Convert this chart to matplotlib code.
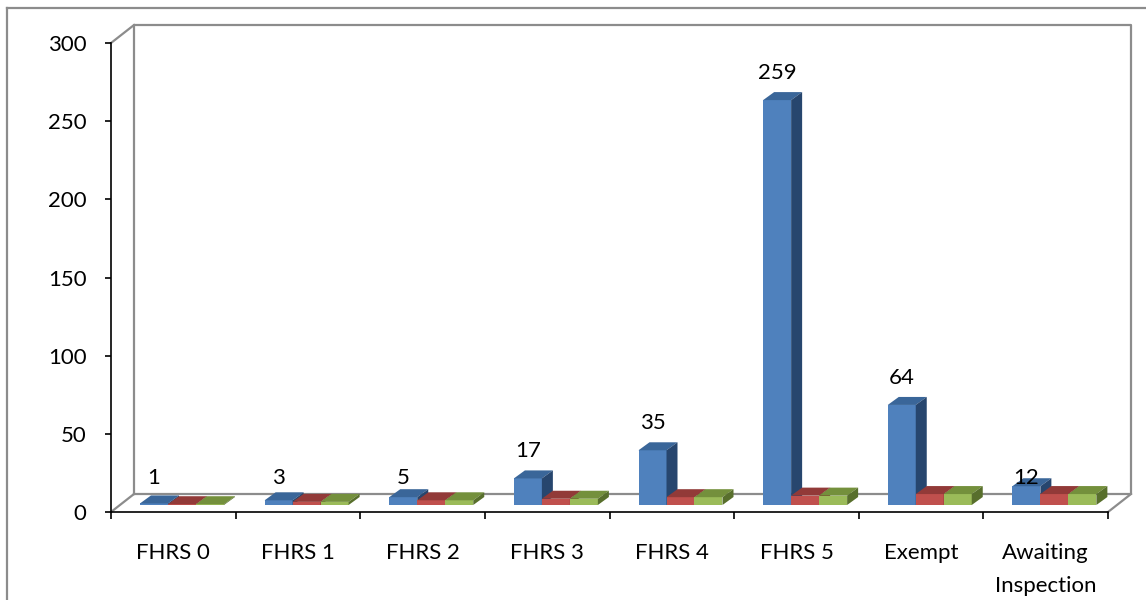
import matplotlib
matplotlib.use("Agg")
import matplotlib.pyplot as plt
from matplotlib.patches import Polygon
from matplotlib.lines import Line2D

categories = ["FHRS 0", "FHRS 1", "FHRS 2", "FHRS 3", "FHRS 4", "FHRS 5",
              "Exempt", "Awaiting\nInspection"]
series_blue = [1, 3, 5, 17, 35, 259, 64, 12]
series_red = [0.5, 2, 3, 4, 5, 6, 7, 7]
series_green = [0.5, 2, 3, 4, 5, 6, 7, 7]
y_ticks = [0, 50, 100, 150, 200, 250, 300]

plt.rcParams["font.family"] = ["Lato", "DejaVu Sans"]
FS = 16

W, H = 1146, 600
fig = plt.figure(figsize=(W / 100, H / 100), dpi=100)

# plot region in pixels: x 111..1108, y 43..512
ax = fig.add_axes([111 / W, (H - 512) / H, (1108 - 111) / W, (512 - 43) / H])
ax.set_xlim(0, len(categories))
ax.set_ylim(0, 300)
for s in ("top", "right"):
    ax.spines[s].set_visible(False)
for s in ("left", "bottom"):
    ax.spines[s].set_linewidth(1.2)
    ax.spines[s].set_color("black")

px_x = (1108 - 111) / len(categories)   # pixels per category
px_y = (512 - 43) / 300                  # pixels per unit

# 3D walls (gray)
wall_dx, wall_dy = 23 / px_x, 18 / px_y
gray = "#8c8c8c"
n = len(categories)
wall = [
    ([wall_dx, n + wall_dx, n + wall_dx, wall_dx, wall_dx],
     [wall_dy, wall_dy, 300 + wall_dy, 300 + wall_dy, wall_dy]),
    ([0, wall_dx], [0, wall_dy]),
    ([0, wall_dx], [300, 300 + wall_dy]),
    ([n, n + wall_dx], [0, wall_dy]),
]
for xs, ys in wall:
    ax.add_line(Line2D(xs, ys, color=gray, lw=1.6, clip_on=False, zorder=1))

# bars
bw = 28 / px_x
off = 29 / px_x
ddx, ddy = 11 / px_x, 8 / px_y
base = 7 / px_y

styles = [
    (series_blue, "#4f81bd", "#3a6699", "#27466e"),
    (series_red, "#c0504d", "#923a38", "#7a2e2c"),
    (series_green, "#9bbb59", "#74903c", "#586f2c"),
]
z = 3
for i in range(n):
    for k, (vals, front, top, side) in enumerate(styles):
        v = vals[i]
        xl = i + off + k * bw
        ax.bar(xl, v, width=bw, bottom=base, align="edge", color=front,
               linewidth=0, zorder=z, clip_on=False)
        yt = base + v
        ax.add_patch(Polygon([(xl, yt), (xl + bw, yt), (xl + bw + ddx, yt + ddy),
                              (xl + ddx, yt + ddy)], closed=True, facecolor=top,
                             linewidth=0, zorder=z, clip_on=False))
        ax.add_patch(Polygon([(xl + bw, base), (xl + bw + ddx, base + ddy),
                              (xl + bw + ddx, yt + ddy), (xl + bw, yt)], closed=True,
                             facecolor=side, linewidth=0, zorder=z, clip_on=False))
        z += 1

# data labels for blue series
for i, v in enumerate(series_blue):
    xc = i + off + bw / 2
    yl = v + base + 17.5 if v > 15 else 22.0
    ax.text(xc, yl, str(v), ha="center", va="center", fontsize=FS, zorder=50)

# axes ticks
ax.set_yticks(y_ticks)
ax.set_yticklabels([str(t) for t in y_ticks])
ax.tick_params(axis="y", direction="out", length=4.5, width=1.2, pad=13,
               labelsize=FS)
ax.set_xticks(range(n + 1))
ax.set_xticklabels([])
ax.set_xticks([i + 0.5 for i in range(n)], minor=True)
ax.set_xticklabels(categories, minor=True, fontsize=FS, linespacing=1.85, va="top")
ax.tick_params(axis="x", which="major", direction="out", length=5, width=1.2)
ax.tick_params(axis="x", which="minor", length=0, pad=22)
ax.patch.set_alpha(0)

# outer chart frame
fig.add_artist(Line2D([7 / W, 7 / W], [0, 1 - 8 / H], color=gray, lw=1.6,
                      transform=fig.transFigure))
fig.add_artist(Line2D([7 / W, 1], [1 - 8 / H, 1 - 8 / H], color=gray, lw=1.6,
                      transform=fig.transFigure))

fig.savefig("out.png", dpi=100)
